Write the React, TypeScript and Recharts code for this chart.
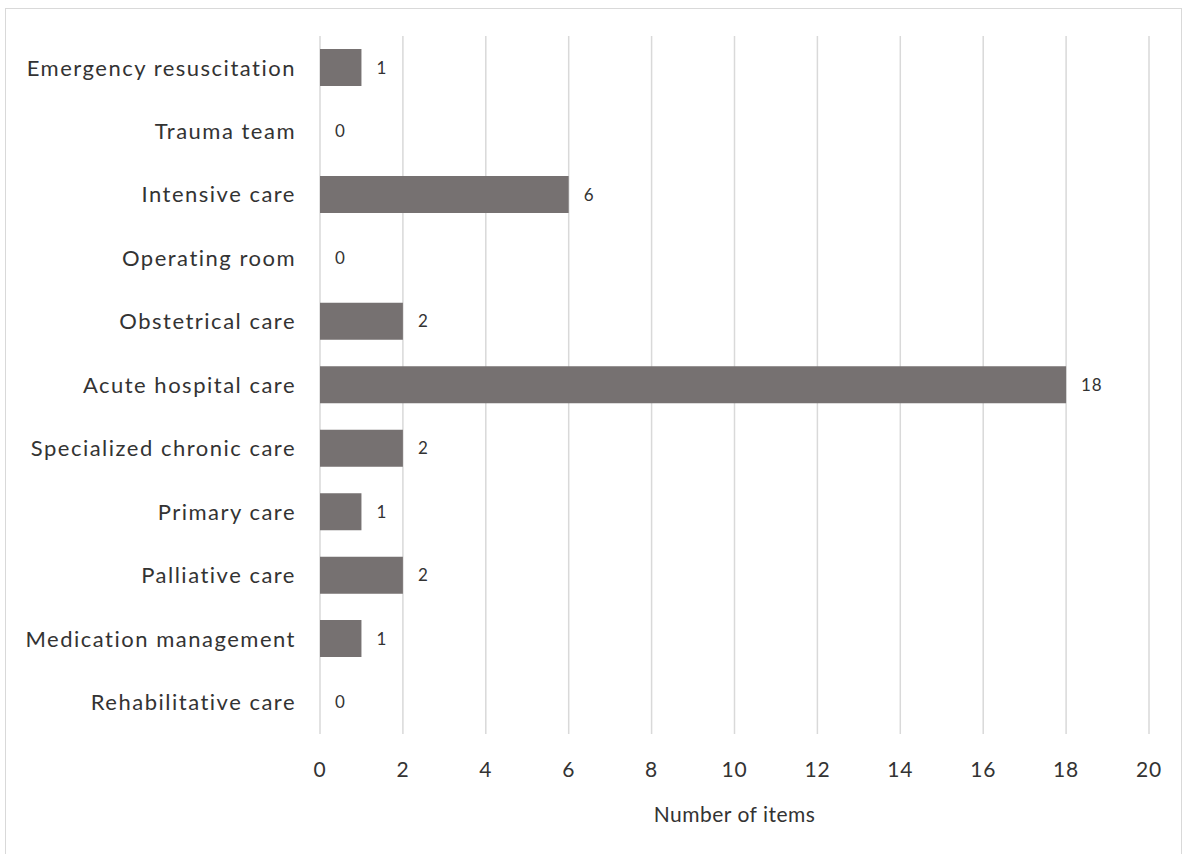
import { ComposedChart, Bar, Line, XAxis, YAxis, CartesianGrid, Label } from 'recharts';

const categories = [
  'Emergency resuscitation',
  'Trauma team',
  'Intensive care',
  'Operating room',
  'Obstetrical care',
  'Acute hospital care',
  'Specialized chronic care',
  'Primary care',
  'Palliative care',
  'Medication management',
  'Rehabilitative care',
];
const itemCounts = [1, 0, 6, 0, 2, 18, 2, 1, 2, 1, 0];
const xTicks = [0, 2, 4, 6, 8, 10, 12, 14, 16, 18, 20];

const BAR_COLOR = '#767171';
const GRID_COLOR = '#d9d9d9';
const TEXT_COLOR = '#333333';
const FONT = 'Lato, "Open Sans", sans-serif';

const textStyle = {
  fontFamily: FONT,
  fontVariantLigatures: 'none',
  letterSpacing: 1.5,
};

const data = categories.map((name, i) => ({ name, value: itemCounts[i] }));

// count next to the bar end; drawn from an invisible line so zeros get one too
function ValueLabel(props: any) {
  const { x, y, value } = props;
  return (
    <text
      x={Number(x) + 15}
      y={Number(y)}
      dy="0.35em"
      fontSize={17}
      fill={TEXT_COLOR}
      style={{ ...textStyle, letterSpacing: 0.8 }}
    >
      {value}
    </text>
  );
}

export default function App() {
  return (
    <div
      style={{
        position: 'absolute',
        left: 5,
        top: 8,
        width: 1175,
        height: 846,
        borderTop: `1px solid ${GRID_COLOR}`,
        borderLeft: `1px solid ${GRID_COLOR}`,
        borderRight: `1px solid ${GRID_COLOR}`,
        background: '#fff',
        fontFamily: FONT,
      }}
    >
      <ComposedChart
        width={1175}
        height={845}
        data={data}
        layout="vertical"
        margin={{ top: 27, right: 32, bottom: 0, left: 0 }}
        barSize={37}
      >
        <CartesianGrid horizontal={false} stroke={GRID_COLOR} strokeWidth={1.5} />
        <XAxis
          type="number"
          domain={[0, 20]}
          ticks={xTicks}
          axisLine={false}
          tickLine={false}
          tickSize={0}
          tickMargin={28}
          height={120}
          tick={{ fontSize: 21, fill: TEXT_COLOR, style: { ...textStyle, letterSpacing: 0.8 } }}
        >
          <Label
            value="Number of items"
            position="insideBottom"
            offset={32}
            fontSize={21}
            fill={TEXT_COLOR}
            style={{ ...textStyle, letterSpacing: 0.5 }}
          />
        </XAxis>
        <YAxis
          type="category"
          dataKey="name"
          width={314}
          axisLine={false}
          tickLine={false}
          tickSize={0}
          tickMargin={24}
          interval={0}
          tick={{ fontSize: 22, fill: TEXT_COLOR, style: textStyle }}
        />
        <Bar dataKey="value" fill={BAR_COLOR} isAnimationActive={false} />
        <Line
          dataKey="value"
          stroke="none"
          dot={false}
          activeDot={false}
          legendType="none"
          label={ValueLabel}
          isAnimationActive={false}
        />
      </ComposedChart>
    </div>
  );
}
